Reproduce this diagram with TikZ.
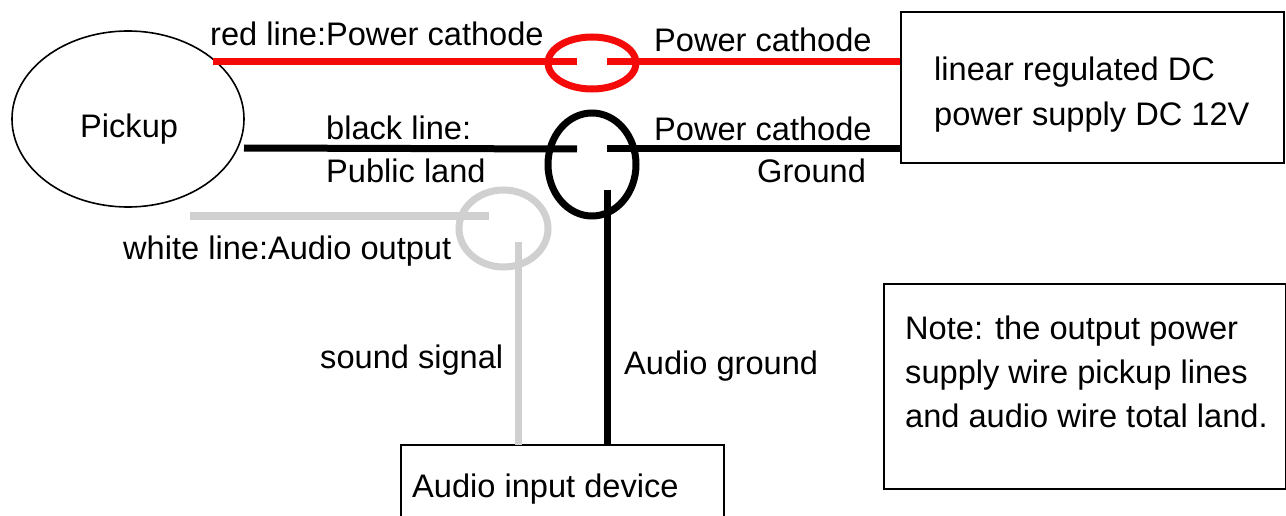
\documentclass[tikz,border=0pt]{standalone}
\usepackage{fontspec}
\usetikzlibrary{shapes.geometric}
\setmainfont{Liberation Sans}
\definecolor{wgray}{RGB}{208,208,208}
\definecolor{rline}{RGB}{245,10,10}
\tikzset{
 box/.style={draw=black,line width=1.6pt,fill=white,rectangle,inner sep=0pt},
 lab/.style={font=\fontsize{32.6}{38}\selectfont,anchor=base west,inner sep=0pt,text=black,yshift=-1.5pt},
 redw/.style={draw=rline,line width=7pt},
 blkw/.style={draw=black,line width=7pt},
 gryw/.style={draw=wgray,line width=7pt}
}
\begin{document}
\begin{tikzpicture}[x=1pt,y=-1pt]
\useasboundingbox (0,0) rectangle (1286,516);
\clip (0,0) rectangle (1286,516);
\node[draw=black,line width=1.6pt,ellipse,minimum width=232pt,minimum height=176pt,inner sep=0pt] (pickup) at (128,119) {};
\node[box,minimum width=383pt,minimum height=151pt] (psu) at (1092.5,87.5) {};
\node[box,minimum width=402pt,minimum height=205pt] (note) at (1085,386.5) {};
\node[box,minimum width=323pt,minimum height=85pt] (audio) at (562.5,487.5) {};
\coordinate (psr) at (psu.west |- 0,62);
\coordinate (psb) at (psu.west |- 0,149);
\coordinate (ar) at (518,445);
\coordinate (ab) at (607,445);
\coordinate (rl) at (213,62);
\coordinate (bl) at (244,148);
\coordinate (wl) at (190,216);
\coordinate (rs) at (577,62);
\coordinate (rt) at (607,62);
\coordinate (bs) at (577,149);
\coordinate (bt) at (607,149);
\coordinate (bv) at (607,190);
\coordinate (gs) at (489,216);
\coordinate (gv) at (518,242);
\node[draw=rline,line width=7pt,ellipse,minimum width=88pt,minimum height=52pt,inner sep=0pt,outer sep=0pt] (redring) at (592,63) {};
\node[draw=black,line width=7pt,ellipse,minimum width=88pt,minimum height=103pt,inner sep=0pt,outer sep=0pt] (blackring) at (592,164.5) {};
\node[draw=wgray,line width=7pt,ellipse,minimum width=89pt,minimum height=77pt,inner sep=0pt,outer sep=0pt] (grayring) at (503.5,228.5) {};
\draw[redw] (rl) -- (rs);
\draw[redw] (rt) -- (psr);
\draw[blkw] (bl) -- (bs);
\draw[blkw] (bt) -- (psb);
\draw[blkw] (bv) -- (ab);
\draw[gryw] (wl) -- (gs);
\draw[gryw] (gv) -- (ar);
\node[lab] (t1) at (80,136) {Pickup};
\node[lab] (t2) at (210,44) {red line:Power cathode};
\node[lab] (t3) at (654,50) {Power cathode};
\node[lab] (t4) at (934,79) {linear regulated DC};
\node[lab] (t5) at (934,124) {power supply DC 12V};
\node[lab] (t6) at (326,138) {black line:};
\node[lab] (t7) at (326,181) {Public land};
\node[lab] (t8) at (654,139) {Power cathode};
\node[lab] (t9) at (757,181) {Ground};
\node[lab] (t10) at (123,258) {white line:Audio output};
\node[lab] (t11) at (320,367) {sound signal};
\node[lab] (t12) at (624,373) {Audio ground};
\node[lab] (t13) at (412,496) {Audio input device};
\node[lab] (t14) at (905,338) {Note: the output power};
\node[lab] (t15) at (905,382) {supply wire pickup lines};
\node[lab] (t16) at (905,426) {and audio wire total land.};
\end{tikzpicture}
\end{document}
